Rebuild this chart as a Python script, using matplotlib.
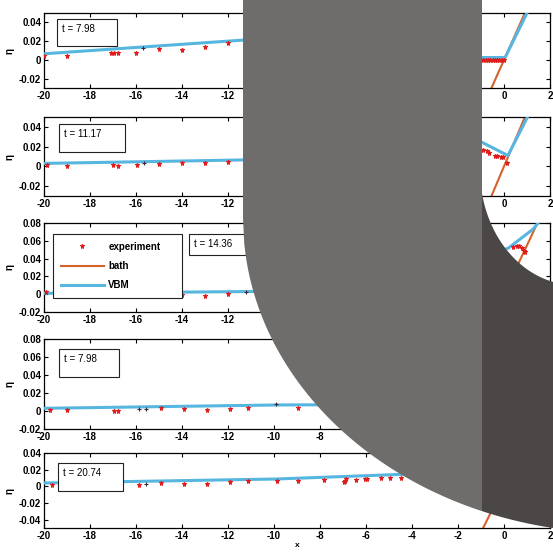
import numpy as np
import matplotlib
matplotlib.use('Agg')
import matplotlib.pyplot as plt
from matplotlib.patches import Rectangle, Polygon
from matplotlib.lines import Line2D

plt.rcParams['font.family'] = ['Liberation Sans', 'DejaVu Sans']

# ---- data ----
x_ticks = [-20, -18, -16, -14, -12, -10, -8, -6, -4, -2, 0, 2]
t_labels = ['t = 7.98', 't = 11.17', 't = 14.36', 't = 7.98', 't = 20.74']

bath_x = [-20, 2]
bath_y = [-1.1, 0.11]

exp1_x = [-20, -19, -17.1, -16.95, -16.8, -16, -15, -14, -13, -12, -10, -8, -6, -4, -2,
          -0.9, -0.8, -0.7, -0.6, -0.5, -0.4, -0.3, -0.2, -0.1, 0.0]
exp1_y = [0.0045, 0.0046, 0.0076, 0.0075, 0.0076, 0.007, 0.012, 0.0108, 0.0133, 0.018, 0.022,
          0.026, 0.027, 0.02, 0.01,
          -0.0003, -0.0003, -0.0002, -0.0003, -0.0003, -0.0002, -0.0003, -0.0003, -0.0002, -0.0003]
vbm1_x = [-20, -11.4, -8, -5, -3, -0.96, 0.05, 1.0, 1.2]
vbm1_y = [0.0065, 0.021, 0.028, 0.03, 0.02, 0.0025, 0.0025, 0.05, 0.06]
dark1_x = [-15.7]
dark1_y = [0.0125]

exp2_x = [-19.85, -19, -17, -16.8, -15.96, -15, -14, -13, -12, -10, -8, -6, -4, -2,
          -0.9, -0.75, -0.65, -0.4, -0.3, -0.15, -0.05, 0.12]
exp2_y = [0.0015, 0.0007, 0.0017, 0.0007, 0.001, 0.0024, 0.003, 0.003, 0.004, 0.006, 0.009,
          0.014, 0.02, 0.024,
          0.017, 0.0155, 0.014, 0.011, 0.0105, 0.0095, 0.009, 0.003]
vbm2_x = [-20, -11.4, -8, -5, -3, -0.96, 0.17, 1.0, 1.2]
vbm2_y = [0.003, 0.0065, 0.01, 0.02, 0.03, 0.0244, 0.011, 0.049, 0.06]
dark2_x = [-15.65]
dark2_y = [0.003]

exp3_x = [-19.9, -14, -13, -12, -10, -8, -6, -4, -2, 0.4, 0.55, 0.65, 0.77, 0.85, 0.92]
exp3_y = [0.002, -0.001, -0.0015, 0.0, 0.002, 0.004, 0.008, 0.014, 0.025, 0.053, 0.054,
          0.054, 0.052, 0.049, 0.047]
vbm3_x = [-20, -11, -8, -5, -2, 0.2, 1.26, 1.48, 1.7]
vbm3_y = [0.001, 0.003, 0.006, 0.012, 0.028, 0.052, 0.073, 0.08, 0.087]
dark3_x = [-11.2]
dark3_y = [0.003]

exp4_x = [-19.75, -19, -16.95, -16.8, -14.9, -13.9, -12.9, -11.9, -11.15, -8.95, -7.85,
          -6, -4, -2]
exp4_y = [0.001, 0.001, 0.0005, 0.0005, 0.003, 0.002, 0.0008, 0.002, 0.003, 0.0037, 0.0048,
          0.007, 0.01, 0.02]
vbm4_x = [-20, -9.9, -7.8, -5, -2, 0, 1.5]
vbm4_y = [0.003, 0.0067, 0.0069, 0.009, 0.02, 0.04, 0.09]
dark4_x = [-15.85, -15.55, -9.9]
dark4_y = [0.0025, 0.0025, 0.0075]

exp5_x = [-19.67, -18.95, -17.0, -16.9, -16.8, -16.7, -15.86, -14.93, -13.9, -12.9, -11.93,
          -11.15, -9.86, -8.95, -7.82, -6.95, -6.9, -6.87, -6.45, -6.05, -5.95, -5.33, -4.97,
          -4.48]
exp5_y = [0.0016, 0.0016, 0.002, 0.002, 0.002, 0.002, 0.0016, 0.004, 0.0028, 0.0028, 0.0048,
          0.0062, 0.006, 0.006, 0.0072, 0.005, 0.007, 0.0088, 0.0076, 0.0088, 0.0088, 0.0096,
          0.0096, 0.0096]
vbm5_x = [-20, -9.9, -4.4, -2, 0, 1.5]
vbm5_y = [0.004, 0.0088, 0.0144, 0.02, 0.03, 0.08]
dark5_x = [-15.58]
dark5_y = [0.003]

exp_x = [exp1_x, exp2_x, exp3_x, exp4_x, exp5_x]
exp_y = [exp1_y, exp2_y, exp3_y, exp4_y, exp5_y]
vbm_x = [vbm1_x, vbm2_x, vbm3_x, vbm4_x, vbm5_x]
vbm_y = [vbm1_y, vbm2_y, vbm3_y, vbm4_y, vbm5_y]
dark_x = [dark1_x, dark2_x, dark3_x, dark4_x, dark5_x]
dark_y = [dark1_y, dark2_y, dark3_y, dark4_y, dark5_y]

y_lims = [(-0.03, 0.05), (-0.03, 0.05), (-0.02, 0.08), (-0.02, 0.08), (-0.05, 0.04)]
y_ticks = [[-0.02, 0, 0.02, 0.04], [-0.02, 0, 0.02, 0.04],
           [-0.02, 0, 0.02, 0.04, 0.06, 0.08], [-0.02, 0, 0.02, 0.04, 0.06, 0.08],
           [-0.04, -0.02, 0, 0.02, 0.04]]

# ---- layout (pixels) ----
W, H = 553, 552
AX_L, AX_R = 44, 550
rows = [(13, 88), (117, 196), (223, 312), (339, 429), (453, 528)]   # top, bottom
boxes = [(57, 19, 117, 46), (59, 124, 125, 152), (189, 234, 256, 255),
         (59, 349, 119, 377), (58, 463, 123, 491)]

C_VBM = '#56b6df'
C_BATH = '#d4622b'
C_EXP = '#e01b1b'

fig = plt.figure(figsize=(W / 100, H / 100), dpi=100)

for i, (top, bot) in enumerate(rows):
    ax = fig.add_axes([AX_L / W, 1 - bot / H, (AX_R - AX_L) / W, (bot - top) / H])
    ax.plot(bath_x, bath_y, color=C_BATH, lw=1.5, label='bath', zorder=2)
    ax.plot(vbm_x[i], vbm_y[i], color=C_VBM, lw=2.2, label='VBM', zorder=3)
    ax.plot(exp_x[i], exp_y[i], ls='none', marker='*', ms=3.6, mew=0.7,
            color=C_EXP, label='experiment', zorder=4)
    ax.plot(dark_x[i], dark_y[i], ls='none', marker='+', ms=3, mew=0.8, color='#3a2838', zorder=4)

    ax.set_xlim(-20, 2)
    ax.set_ylim(*y_lims[i])
    ax.set_xticks(x_ticks)
    ax.set_xticklabels([f'{v:g}' for v in x_ticks], fontweight='bold')
    ax.set_yticks(y_ticks[i])
    ax.set_yticklabels([f'{v:g}' for v in y_ticks[i]], fontweight='bold')
    ax.tick_params(direction='in', top=True, right=True, length=3, width=0.8,
                   labelsize=7, pad=2)
    for s in ax.spines.values():
        s.set_linewidth(0.9)
    ax.set_ylabel('η', fontsize=7, fontweight='bold', labelpad=3)

    # text box
    bx0, by0, bx1, by1 = boxes[i]
    fx = lambda px: (px - AX_L) / (AX_R - AX_L)
    fy = lambda py: (bot - py) / (bot - top)
    ax.add_patch(Rectangle((fx(bx0), fy(by1)), fx(bx1) - fx(bx0), fy(by0) - fy(by1),
                           transform=ax.transAxes, facecolor='white', edgecolor='#222222',
                           lw=0.8, zorder=5))
    ax.text(fx(bx0 + 5), fy(by0 + 10), t_labels[i], transform=ax.transAxes,
            fontsize=7, va='center', ha='left', zorder=6)

    if i == 2:
        handles = [Line2D([], [], ls='none', marker='*', ms=3.6, mew=0.7, color=C_EXP),
                   Line2D([], [], color=C_BATH, lw=1.5),
                   Line2D([], [], color=C_VBM, lw=2.2)]
        leg = ax.legend(handles, ['experiment', 'bath', 'VBM'], loc='upper left',
                        bbox_to_anchor=(fx(53), fy(298), fx(182) - fx(53), fy(234) - fy(298)),
                        mode='expand', borderaxespad=0, fancybox=False, framealpha=1,
                        edgecolor='#222222', prop={'weight': 'bold', 'size': 7},
                        handlelength=4.4, handletextpad=0.5, labelspacing=0.95,
                        borderpad=0.8)
        leg.get_frame().set_linewidth(0.8)
        leg.set_zorder(7)
    if i == 4:
        ax.set_xlabel('x', fontsize=6, fontweight='bold', labelpad=1)

# ---- grey overlay shape drawn over the figure ----
ov = fig.add_axes([0, 0, 1, 1], zorder=20)
ov.set_xlim(0, W)
ov.set_ylim(H, 0)
ov.axis('off')
ov.patch.set_alpha(0)

def ell(xs, cx, cy, a, b):
    return cy + b * np.sqrt(np.clip(1 - ((xs - cx) / a) ** 2, 0, None))

xl = np.linspace(243, 482, 200)
light = [(243, 0)] + list(zip(xl, ell(xl, 620, 218, 377, 315))) + [(482, 0)]
ov.add_patch(Polygon(light, closed=True, facecolor='#6f6d6c', edgecolor='none'))

xd = np.linspace(482, 553, 100)
dark = list(zip(xd, ell(xd, 575, 170, 95, 115))) + list(zip(xd[::-1], ell(xd[::-1], 620, 218, 377, 315)))
ov.add_patch(Polygon(dark, closed=True, facecolor='#4b4746', edgecolor='none'))

fig.savefig('out.png', dpi=100)
